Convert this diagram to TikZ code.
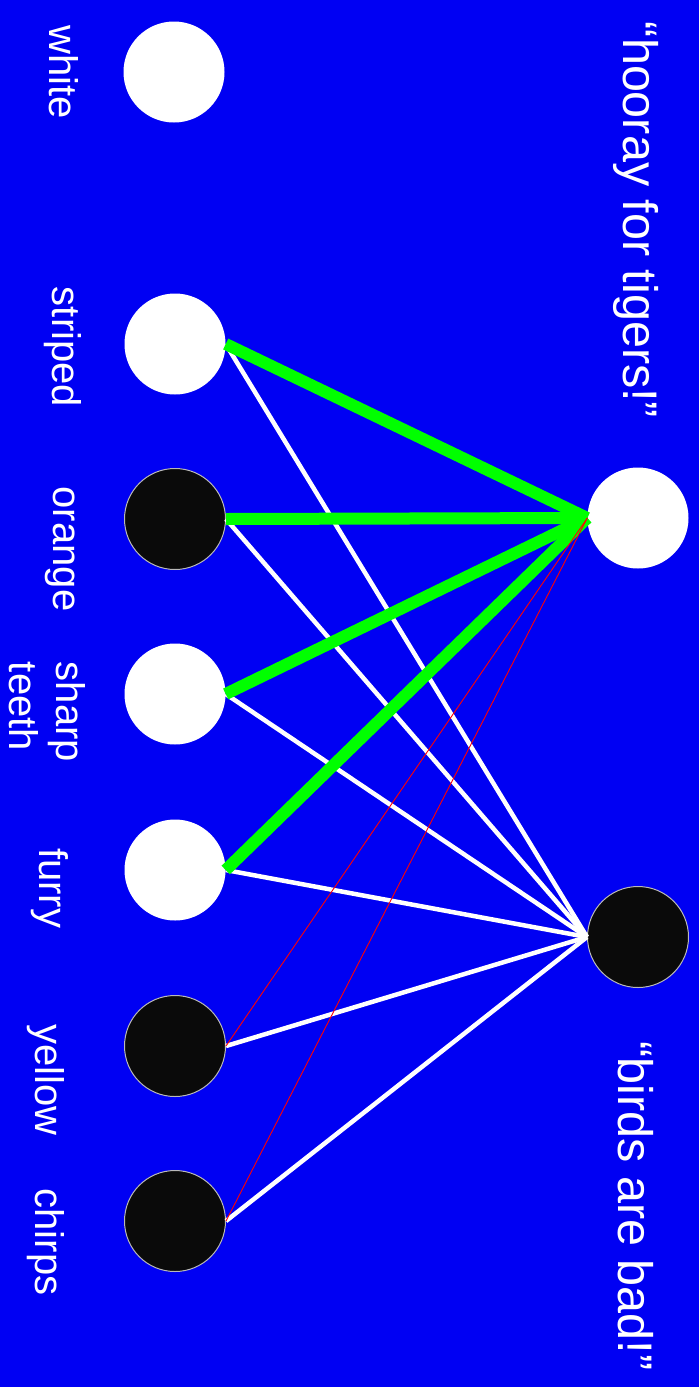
\documentclass[tikz,border=0pt]{standalone}
\usepackage{fontspec}
\setmainfont{Liberation Sans}
\definecolor{bgblue}{RGB}{0,0,243}
\definecolor{nodeblack}{RGB}{10,10,10}
\definecolor{brightgreen}{RGB}{0,255,0}
\begin{document}
\begin{tikzpicture}[x=1pt,y=-1pt,
  unit/.style={circle, minimum size=101pt, inner sep=0pt},
  onunit/.style={unit, fill=white},
  offunit/.style={unit, fill=nodeblack, draw=gray!55, line width=1pt},
  lbl/.style={text=white, rotate=-90, inner sep=0pt, font=\fontsize{40}{47}\selectfont},
  outlbl/.style={text=white, rotate=-90, inner sep=0pt, font=\fontsize{48.5}{56}\selectfont},
  strongedge/.style={draw=brightgreen, line width=12pt},
  weakedge/.style={draw=white, line width=4.5pt},
  faintedge/.style={draw=red, line width=0.9pt}]
\fill[bgblue] (0,0) rectangle (699,1387);
\useasboundingbox (0,0) rectangle (699,1387);
% input units
\node[onunit]  (white)   at (174,72)  {};
\node[onunit]  (striped) at (175,344) {};
\node[offunit] (orange)  at (175,519) {};
\node[onunit]  (sharp)   at (175,694) {};
\node[onunit]  (furry)   at (175,870) {};
\node[offunit] (yellow)  at (175,1046) {};
\node[offunit] (chirps)  at (175,1221) {};
% output units
\node[onunit]  (hooray)  at (638,518) {};
\node[offunit] (birds)   at (638,937) {};
% labels
\node[lbl] (lwhite)   at (64,72)   {white};
\node[lbl] (lstriped) at (63,347)  {striped};
\node[lbl] (lorange)  at (60,549)  {orange};
\node[lbl, align=left] (lsharp) at (47,712) {sharp\\teeth};
\node[lbl] (lfurry)   at (50,888)  {furry};
\node[lbl] (lyellow)  at (46,1080) {yellow};
\node[lbl] (lchirps)  at (46,1242) {chirps};
\node[outlbl] (lhooray) at (636,220)  {“hooray for tigers!”};
\node[outlbl] (lbirds)  at (636,1206) {“birds are bad!”};
% connections
\draw[weakedge] (striped.east) -- (birds.west);
\draw[weakedge] (orange.east)  -- (birds.west);
\draw[weakedge] (sharp.east)   -- (birds.west);
\draw[weakedge] (furry.east)   -- (birds.west);
\draw[weakedge] (yellow.east)  -- (birds.west);
\draw[weakedge] (chirps.east)  -- (birds.west);
\draw[strongedge] (striped.east) -- (hooray.west);
\draw[strongedge] (orange.east)  -- (hooray.west);
\draw[strongedge] (sharp.east)   -- (hooray.west);
\draw[strongedge] (furry.east)   -- (hooray.west);
\draw[faintedge] (yellow.east) -- (hooray.west);
\draw[faintedge] (chirps.east) -- (hooray.west);
\end{tikzpicture}
\end{document}
